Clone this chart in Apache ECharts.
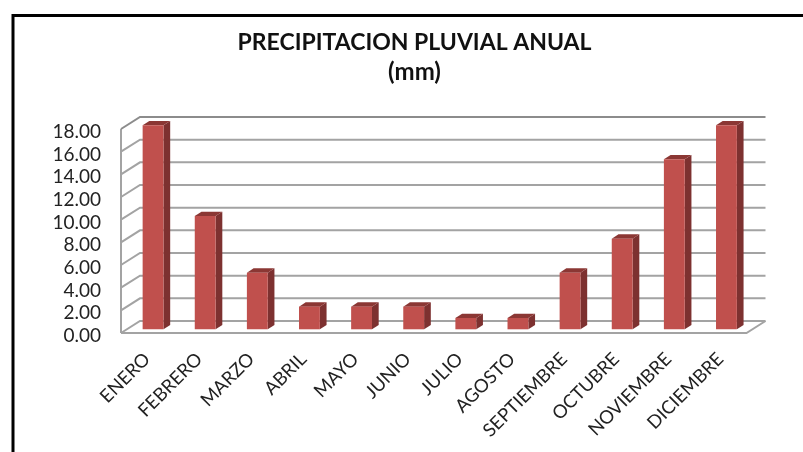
<!DOCTYPE html>
<html>
<head>
<meta charset="utf-8">
<style>html,body{margin:0;padding:0;background:#fff}#chart{width:803px;height:452px}</style>
<script src="https://cdn.jsdelivr.net/npm/echarts@6/dist/echarts.min.js"></script>
</head>
<body>
<div id="chart"></div>
<script>
const months = ['ENERO','FEBRERO','MARZO','ABRIL','MAYO','JUNIO','JULIO','AGOSTO','SEPTIEMBRE','OCTUBRE','NOVIEMBRE','DICIEMBRE'];
const precipitation = [18,10,5,2,2,2,1,1,5,8,15,18];
const yTicks = [0,2,4,6,8,10,12,14,16,18];

// Oblique projection of the 3D look: wall depth and the depth of a column.
const WALL_DX = 19, WALL_DY = -12;
const BAR_SHIFT_X = 6, BAR_SHIFT_Y = -3.7;
const BAR_DX = 6.7, BAR_DY = -4.3;
const BAR_WIDTH_RATIO = 0.4;

const chart = echarts.init(document.getElementById('chart'), null, {renderer:'canvas'});

function poly(points, fill) {
  return {type:'polygon', shape:{points}, style:{fill}};
}

function renderWall(params, api) {
  const v = api.value(1);
  const p = api.coord([0, v]);
  const g = params.coordSys;
  const x0 = g.x, x1 = g.x + g.width, y = p[1];
  const pts = [[x0, y],[x0 + WALL_DX, y + WALL_DY],[x1 + WALL_DX, y + WALL_DY]];
  const color = v === 18 ? '#8c8c8c' : '#a3a3a3';
  const children = [{type:'polyline', shape:{points:pts}, style:{stroke:color, lineWidth:2, fill:null}}];
  if (v === 0) {
    children.push({type:'polyline',
      shape:{points:[[x0, y],[x1, y],[x1 + WALL_DX, y + WALL_DY]]},
      style:{stroke:'#a3a3a3', lineWidth:2, fill:null}});
    const top = api.coord([0, 18])[1];
    children.push({type:'line', shape:{x1:x0, y1:y, x2:x0, y2:top},
      style:{stroke:'#a3a3a3', lineWidth:2}});
  }
  return {type:'group', children};
}

function renderBar(params, api) {
  const base = api.coord([api.value(0), 0]);
  const head = api.coord([api.value(0), api.value(1)]);
  const w = api.size([1, 0])[0] * BAR_WIDTH_RATIO;
  const l = base[0] + BAR_SHIFT_X - w / 2, r = l + w;
  const b = base[1] + BAR_SHIFT_Y, t = head[1] + BAR_SHIFT_Y;
  return {type:'group', children:[
    poly([[r,b],[r+BAR_DX,b+BAR_DY],[r+BAR_DX,t+BAR_DY],[r,t]], '#7d3130'),
    poly([[l,t],[r,t],[r+BAR_DX,t+BAR_DY],[l+BAR_DX,t+BAR_DY]], '#8b3734'),
    poly([[l,b],[r,b],[r,t],[l,t]], '#c0504d')
  ]};
}

chart.setOption({
  animation:false,
  backgroundColor:'#fff',
  textStyle:{fontFamily:'Lato'},
  title:[
    {text:'PRECIPITACION PLUVIAL ANUAL', left:409.5, top:26, textAlign:'center',
     textStyle:{fontFamily:'Lato', fontWeight:'bold', fontSize:23, color:'#111'}},
    {text:'(mm)', left:409.5, top:55, textAlign:'center',
     textStyle:{fontFamily:'Lato', fontWeight:'bold', fontSize:24, color:'#111'}}
  ],
  grid:{left:121, top:129, width:625.5, height:204, containLabel:false},
  xAxis:{type:'category', data:months, boundaryGap:true,
    axisLine:{show:false}, axisTick:{show:false}, splitLine:{show:false},
    axisLabel:{interval:0, rotate:45, margin:23, fontFamily:'Lato', fontSize:18.5, color:'#222'}},
  yAxis:{type:'value', min:0, max:18, interval:2,
    axisLine:{show:false}, axisTick:{show:false}, splitLine:{show:false},
    axisLabel:{margin:20, fontFamily:'Lato', fontSize:19, color:'#222',
      formatter:v => yTicks.includes(v) ? '{n|' + v.toFixed(2) + '}' : '',
      rich:{n:{fontFamily:'Lato', fontSize:19, color:'#222', padding:[6,0,0,0]}}}},
  graphic:[{type:'polyline', silent:true, z:-1,
    shape:{points:[[13,452],[13,15.5],[803,15.5]]},
    style:{stroke:'#000', lineWidth:3, fill:null}}],
  series:[
    {type:'custom', name:'pared', renderItem:renderWall, clip:false, z:1,
     data:yTicks.map(t => [0,t]), encode:{x:0,y:1}, silent:true},
    {type:'custom', name:'Precipitación', renderItem:renderBar, clip:false, z:2,
     data:precipitation.map((v,i) => [i,v]), encode:{x:0,y:1}}
  ]
});
</script>
</body>
</html>
